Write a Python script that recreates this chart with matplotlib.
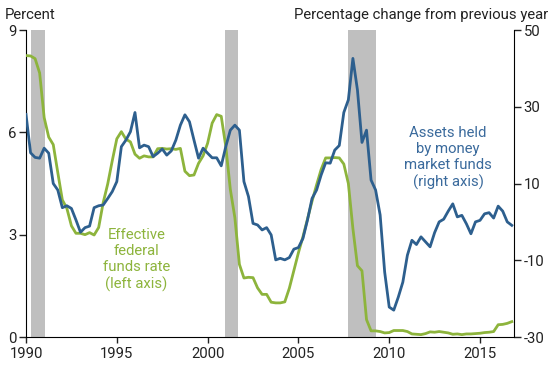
import matplotlib
matplotlib.use("Agg")
import matplotlib.pyplot as plt
import numpy as np

plt.rcParams['font.family'] = ['Roboto', 'DejaVu Sans']
plt.rcParams['axes.unicode_minus'] = False

# quarterly observations, 1990Q1 .. 2016Q4
start_year = 1990

fed_funds = [8.25, 8.24, 8.16, 7.74,
             6.43, 5.86, 5.64, 4.82,
             4.02, 3.77, 3.26, 3.04,
             3.04, 3.00, 3.06, 2.99,
             3.21, 3.94, 4.49, 5.17,
             5.81, 6.02, 5.80, 5.72,
             5.36, 5.24, 5.31, 5.28,
             5.28, 5.52, 5.53, 5.51,
             5.52, 5.50, 5.53, 4.86,
             4.73, 4.75, 5.09, 5.31,
             5.68, 6.27, 6.52, 6.47,
             5.59, 4.33, 3.50, 2.13,
             1.73, 1.75, 1.74, 1.44,
             1.25, 1.25, 1.02, 1.00,
             1.00, 1.03, 1.43, 1.95,
             2.47, 2.94, 3.46, 3.98,
             4.46, 4.91, 5.25, 5.25,
             5.26, 5.25, 5.07, 4.50,
             3.18, 2.09, 1.94, 0.51,
             0.18, 0.18, 0.16, 0.12,
             0.13, 0.19, 0.19, 0.19,
             0.16, 0.09, 0.08, 0.07,
             0.10, 0.15, 0.14, 0.16,
             0.14, 0.12, 0.08, 0.09,
             0.07, 0.09, 0.09, 0.10,
             0.11, 0.13, 0.14, 0.16,
             0.36, 0.37, 0.40, 0.45]

mmf_assets = [28.0, 18.0, 16.8, 16.6,
              19.2, 17.9, 10.0, 8.3,
              3.7, 4.2, 3.5, 0.5,
              -2.7, -1.5, -1.1, 3.7,
              4.2, 4.4, 6.1, 7.9,
              10.5, 19.6, 21.3, 23.5,
              28.5, 19.3, 20.0, 19.6,
              17.0, 17.9, 19.0, 17.4,
              18.5, 21.3, 25.2, 27.9,
              26.1, 21.3, 16.6, 19.2,
              17.9, 16.7, 16.7, 14.6,
              19.6, 23.9, 25.2, 23.9,
              10.5, 6.6, -0.4, -0.8,
              -2.1, -1.5, -3.4, -9.9,
              -9.5, -9.9, -9.3, -7.1,
              -6.7, -4.3, 0.5, 6.1,
              8.3, 12.2, 15.4, 15.3,
              18.7, 19.9, 28.5, 31.8,
              42.6, 34.4, 20.7, 23.9,
              10.9, 8.3, 1.8, -13.1,
              -22.2, -23.0, -19.6, -15.7,
              -8.7, -4.8, -5.9, -3.9,
              -5.2, -6.5, -2.8, 0.0,
              0.7, 2.8, 4.7, 1.3,
              1.7, -0.5, -3.1, 0.0,
              0.4, 2.1, 2.4, 1.0,
              4.1, 2.8, 0.0, -0.9]

recessions = [(1990.3, 1991.03), (2000.97, 2001.7), (2007.74, 2009.29)]

left_ticks = [0, 3, 6, 9]
right_ticks = [-30, -10, 10, 30, 50]
year_ticks = [1990, 1995, 2000, 2005, 2010, 2015]

green = "#8db43c"
blue = "#2d5f8e"
fs = 10.7

dates = start_year + np.arange(len(fed_funds)) * 0.25

fig = plt.figure(figsize=(5.5, 3.65), dpi=100)
ax = fig.add_axes([0.0473, 0.0767, 0.8872, 0.8411])
ax2 = ax.twinx()

for a, b in recessions:
    ax.axvspan(a, b, color="#bfbfbf", lw=0, zorder=0)

ax.plot(dates, fed_funds, color=green, lw=2.0, zorder=3)
ax2.plot(dates, mmf_assets, color=blue, lw=2.0, zorder=3)

ax.set_xlim(1990, 2016.87)
ax.set_ylim(0, 9)
ax2.set_ylim(-30, 50)
ax.set_xticks(year_ticks)
ax.set_yticks(left_ticks)
ax2.set_yticks(right_ticks)
ax2.set_yticklabels([str(t) for t in right_ticks])

for a in (ax, ax2):
    a.spines['top'].set_visible(False)
    a.tick_params(labelsize=fs, length=5, width=1, direction='out', colors='#222222', pad=2)
ax.spines['right'].set_visible(False)
ax2.spines['left'].set_visible(False)
ax2.spines['bottom'].set_visible(False)
ax.tick_params(axis='x', length=4, pad=3)

fig.text(0.009, 0.958, "Percent", fontsize=fs, ha='left', va='center', color='#222222')
fig.text(0.997, 0.958, "Percentage change from previous year", fontsize=fs,
         ha='right', va='center', color='#222222')

ax.text(1996.07, 2.26, "Effective\nfederal\nfunds rate\n(left axis)", color=green,
        fontsize=fs, ha='center', va='center', linespacing=1.18)
ax2.text(2013.24, 16.6, "Assets held\nby money\nmarket funds\n(right axis)", color="#3a6a9c",
         fontsize=fs, ha='center', va='center', linespacing=1.18)

fig.savefig("out.png", dpi=100)
